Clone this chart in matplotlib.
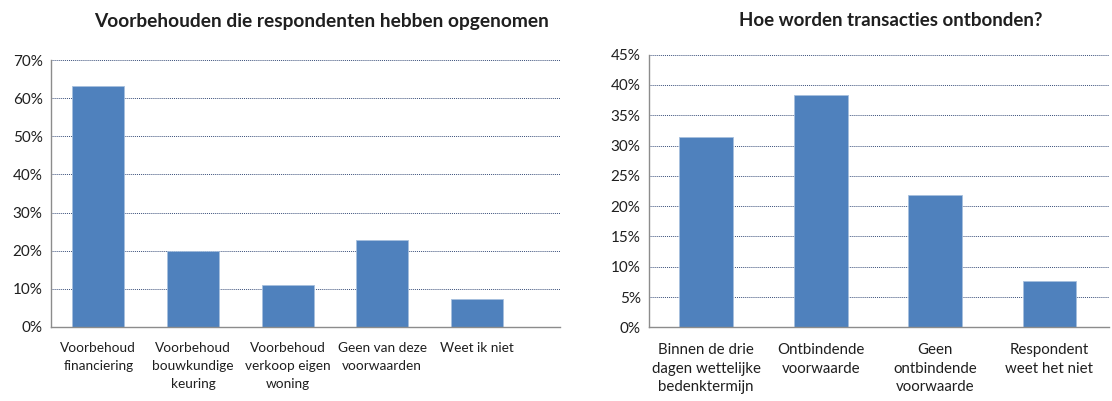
import matplotlib
matplotlib.use("Agg")
import matplotlib.pyplot as plt
from matplotlib.ticker import PercentFormatter

plt.rcParams['font.family'] = ['Lato', 'DejaVu Sans']

# linker grafiek
voorbehoud_labels = ["Voorbehoud\nfinanciering", "Voorbehoud\nbouwkundige\nkeuring",
	"Voorbehoud\nverkoop eigen\nwoning", "Geen van deze\nvoorwaarden", "Weet ik niet"]
voorbehoud_pct = [63.1, 20.0, 11.0, 22.7, 7.3]

# rechter grafiek
ontbonden_labels = ["Binnen de drie\ndagen wettelijke\nbedenktermijn", "Ontbindende\nvoorwaarde",
	"Geen\nontbindende\nvoorwaarde", "Respondent\nweet het niet"]
ontbonden_pct = [31.4, 38.3, 21.8, 7.6]

bar_color = "#4F81BD"
text_color = "#1f1f1f"

def style_axes(ax, ymax, step, xmax):
	ax.set_ylim(0, ymax)
	ax.set_xlim(-0.5, xmax)
	ax.set_yticks(range(0, ymax + 1, step))
	ax.yaxis.set_major_formatter(PercentFormatter(decimals=0))
	ax.grid(axis="y", linestyle=(0, (1, 1)), color="#3a4f7a", linewidth=0.7)
	ax.set_axisbelow(True)
	for s in ("top", "right"):
		ax.spines[s].set_visible(False)
	for s in ("left", "bottom"):
		ax.spines[s].set_color("#8c8c8c")
		ax.spines[s].set_linewidth(1.0)
	ax.tick_params(axis="both", length=0, colors=text_color)
	ax.tick_params(axis="y", pad=6, labelsize=11)
	ax.tick_params(axis="x", pad=11)

fig = plt.figure(figsize=(11.12, 4.01), dpi=100)

ax1 = fig.add_axes([51/1112, 74/401, 509/1112, 267/401])
x1 = range(len(voorbehoud_pct))
ax1.bar(x1, voorbehoud_pct, width=0.55, color=bar_color, edgecolor="#a7c0de", linewidth=0.6)
ax1.set_xticks(list(x1))
ax1.set_xticklabels(voorbehoud_labels, linespacing=1.6, va="top", fontsize=9.8)
style_axes(ax1, 70, 10, 4.88)

ax2 = fig.add_axes([649/1112, 73.7/401, 460/1112, 272.6/401])
x2 = range(len(ontbonden_pct))
ax2.bar(x2, ontbonden_pct, width=0.47, color=bar_color, edgecolor="#a7c0de", linewidth=0.6)
ax2.set_xticks(list(x2))
ax2.set_xticklabels(ontbonden_labels, linespacing=1.45, va="top", fontsize=10.8)
style_axes(ax2, 45, 5, 3.52)

fig.text(322/1112, 1 - 21/401, "Voorbehouden die respondenten hebben opgenomen",
	ha="center", va="center", fontsize=13.8, fontweight="bold", color=text_color)
fig.text(891/1112, 1 - 21/401, "Hoe worden transacties ontbonden?",
	ha="center", va="center", fontsize=13.5, fontweight="bold", color=text_color)

fig.savefig("out.png", dpi=100)
